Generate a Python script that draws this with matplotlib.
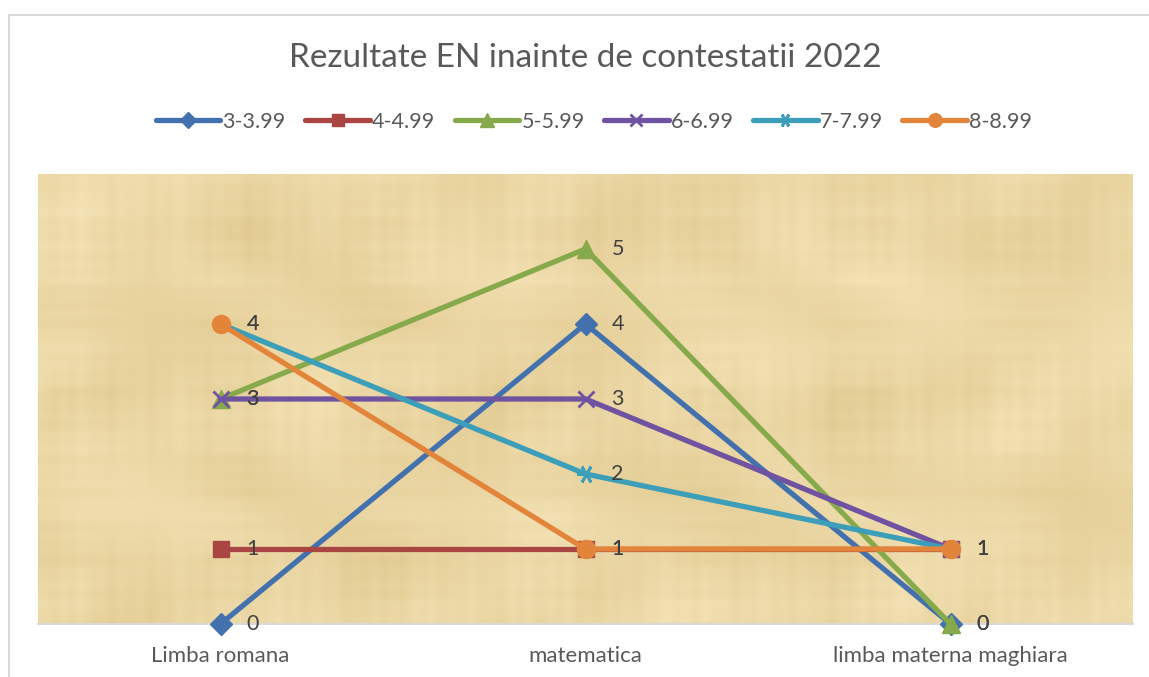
import numpy as np
import matplotlib
matplotlib.use("Agg")
import matplotlib.pyplot as plt
from matplotlib.patches import Rectangle

plt.rcParams['font.family'] = ['Lato', 'DejaVu Sans']

# data
categories = ["Limba romana", "matematica", "limba materna maghiara"]
series_names = ["3-3.99", "4-4.99", "5-5.99", "6-6.99", "7-7.99", "8-8.99"]
s3 = [0, 4, 0]
s4 = [1, 1, 1]
s5 = [3, 5, 0]
s6 = [3, 3, 1]
s7 = [4, 2, 1]
s8 = [4, 1, 1]

colors = ["#4271AD", "#A94543", "#86AA4B", "#6F53A0", "#3C9EB9", "#E2843A"]
markers = ["D", "s", "^", "x", (6, 2, 90), "o"]
msizes = [11, 12, 13, 12, 13, 13]

fig = plt.figure(figsize=(11.49, 6.77), dpi=100)
W, H = 1149, 677

# outer chart frame (only left/top visible in the picture)
fig.patches.append(Rectangle((9 / W, -0.1), 1.2, (677 - 15) / H + 0.1,
                             transform=fig.transFigure, fill=False,
                             edgecolor="#D9D9D9", lw=1.5))

left, right, top, bottom = 38, 1133, 174, 624
ax = fig.add_axes([left / W, (H - bottom) / H, (right - left) / W, (bottom - top) / H])

# papyrus-like background texture (deterministic fibres)
ny, nx = 450, 1095
yy, xx = np.mgrid[0:ny, 0:nx]
rows = (np.sin(yy / 2.7) * 0.3 + np.sin(yy / 5.3 + 1) * 0.3 + np.sin(yy / 13.0) * 0.4)
cols = (np.sin(xx / 3.1) * 0.3 + np.sin(xx / 7.7 + 2) * 0.3 + np.sin(xx / 19.0) * 0.4)
blotch = np.sin(xx / 60.0 + np.sin(yy / 35.0)) * np.sin(yy / 45.0 + np.sin(xx / 80.0))
tex = 0.35 * rows * (0.6 + 0.4 * np.sin(xx / 25.0)) + 0.35 * cols * (0.6 + 0.4 * np.sin(yy / 30.0)) + 0.5 * blotch
tex = (tex - tex.min()) / (tex.max() - tex.min())
light = np.array([245, 228, 184]) / 255.0
dark = np.array([225, 202, 145]) / 255.0
img = dark[None, None, :] * (1 - tex[..., None]) + light[None, None, :] * tex[..., None]
ax.imshow(img, extent=[-0.5, 2.5, 0, 6], aspect="auto", zorder=0, interpolation="bilinear")

x = np.arange(len(categories))
all_series = [s3, s4, s5, s6, s7, s8]
for i, vals in enumerate(all_series):
    thin = markers[i] == "x" or isinstance(markers[i], tuple)
    ax.plot(x, vals, color=colors[i], lw=3.8, marker=markers[i], ms=msizes[i],
            mec=colors[i], mfc=colors[i], mew=2 if thin else 1,
            label=series_names[i], clip_on=False, zorder=3 + i, solid_capstyle="round")

for i, vals in enumerate(all_series):
    for xi, v in zip(x, vals):
        ax.annotate(str(v), (xi, v), xytext=(26, 0), textcoords="offset pixels",
                    ha="left", va="center", fontsize=15.5, color="#404040", zorder=20,
                    annotation_clip=False)

ax.set_xlim(-0.5, 2.5)
ax.set_ylim(0, 6)
ax.set_yticks([])
ax.set_xticks(x)
ax.set_xticklabels(categories, fontsize=16, color="#595959")
ax.tick_params(axis="x", length=0, pad=16)
for sp in ["top", "left", "right"]:
    ax.spines[sp].set_visible(False)
ax.spines["bottom"].set_color("#D9D9D9")
ax.spines["bottom"].set_linewidth(1.5)
ax.spines["bottom"].set_zorder(1)

fig.text(585 / W, (H - 58) / H, "Rezultate EN inainte de contestatii 2022",
         ha="center", va="center", fontsize=24, color="#595959")

leg = fig.legend(loc="center", bbox_to_anchor=(594 / W, (H - 122) / H), ncol=6,
                 frameon=False, fontsize=15.5, handlelength=3.0, handletextpad=0.1,
                 columnspacing=0.9, labelcolor="#595959", markerscale=0.75)

fig.savefig("out.png", dpi=100)
